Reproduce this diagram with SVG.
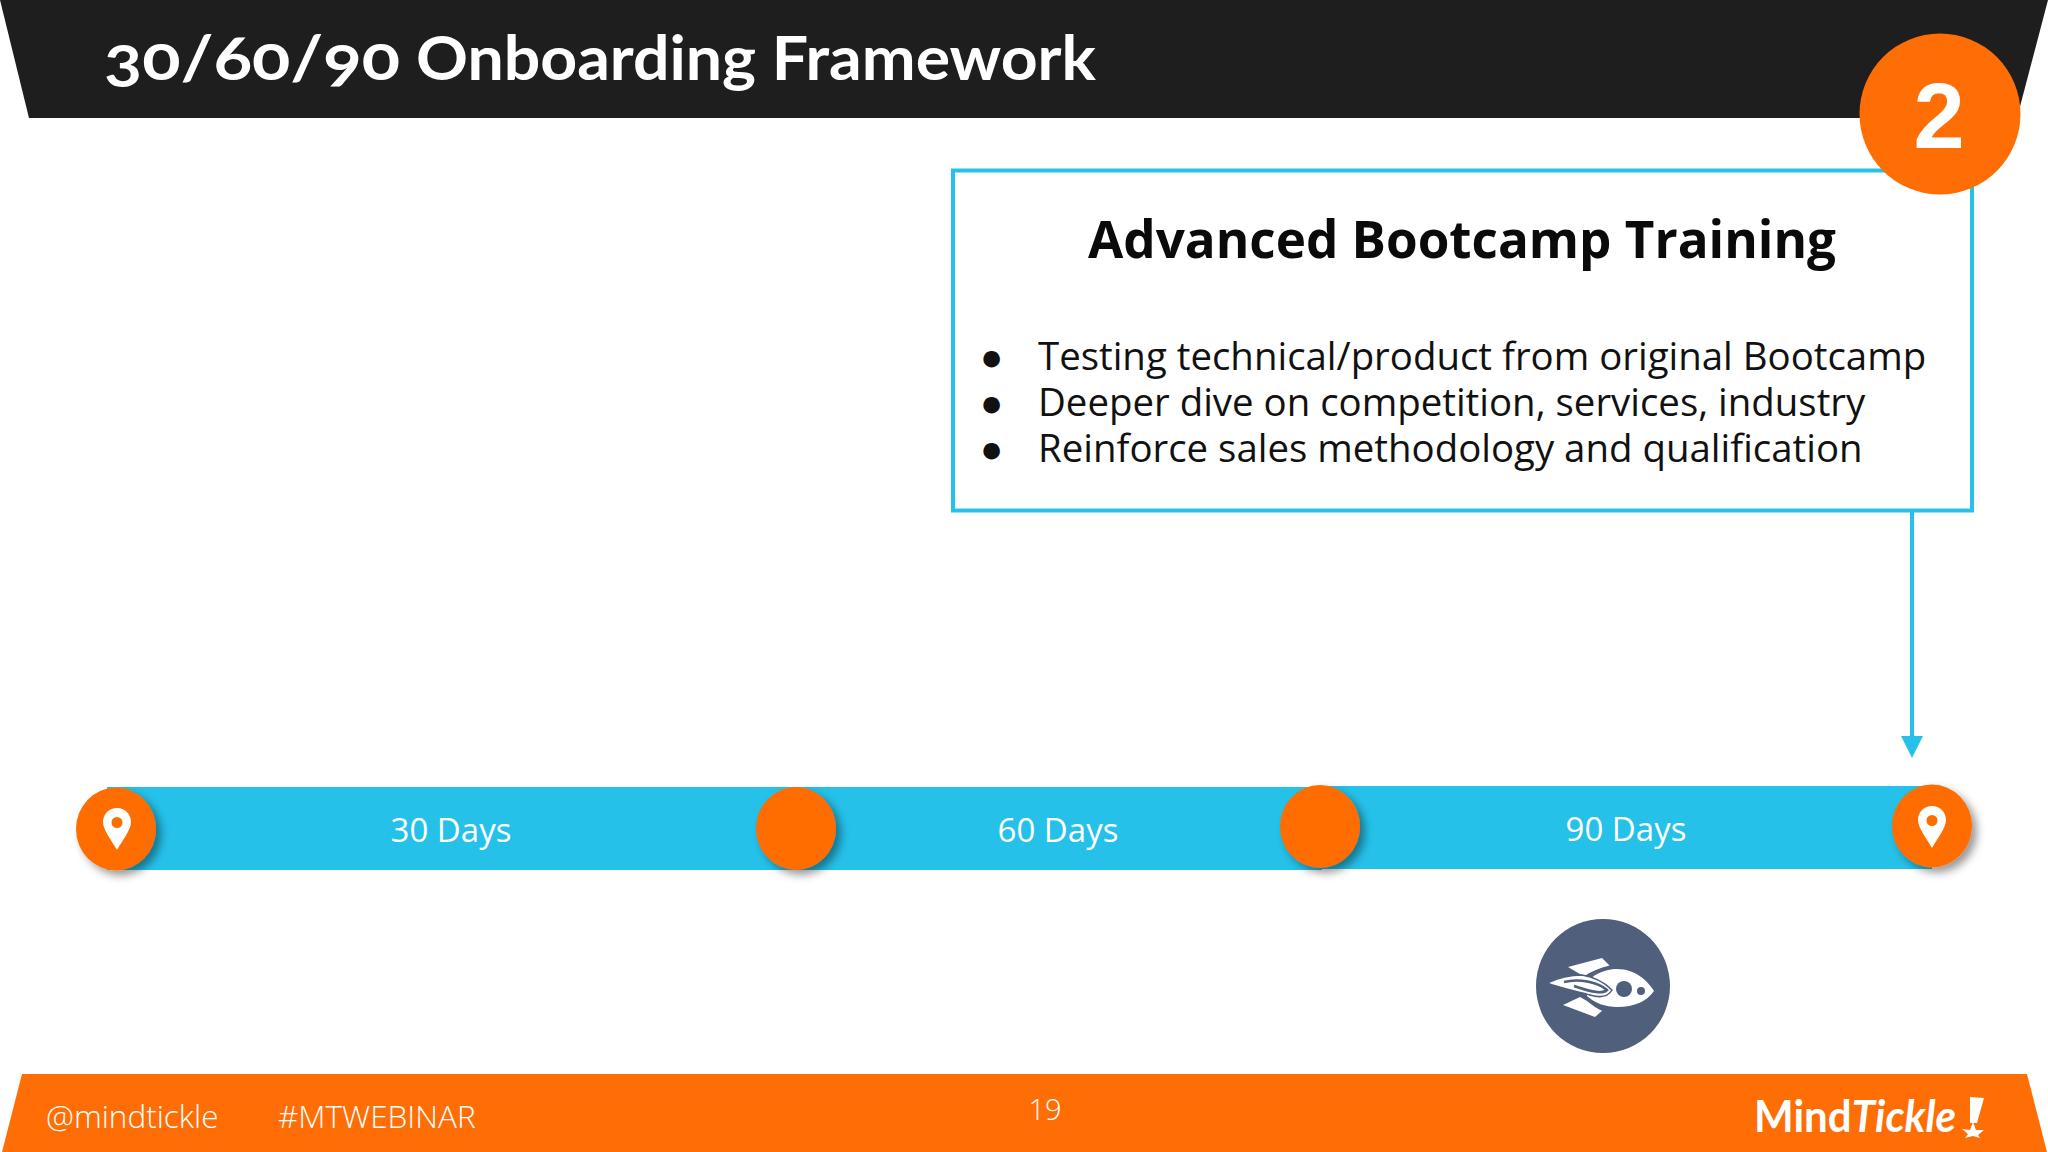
<svg xmlns="http://www.w3.org/2000/svg" width="2048" height="1152" viewBox="0 0 2048 1152">
<style>
.o{fill:#ff6d05}.b{fill:#25c1e9}
.os{font-family:"Open Sans","Liberation Sans",sans-serif}
.day{font-size:33px;fill:#fff;text-anchor:middle;font-weight:400}
.li{font-size:38.4px;fill:#111;font-weight:400}
.ft{font-size:31.500px;fill:#fff;font-weight:300}
</style>
<defs>
<filter id="sh" x="-30%" y="-30%" width="170%" height="170%"><feDropShadow dx="5" dy="5" stdDeviation="4" flood-color="#000" flood-opacity=".4"/></filter>
<path id="pin" d="M0 -22C-8.5 -22 -14 -15.500 -14 -8C-14 0 -5 11 0 20C5 11 14 0 14 -8C14 -15.500 8.500 -22 0 -22ZM0 -13A5.500 5.500 0 1 1 0 -2A5.500 5.500 0 1 1 0 -13Z" fill="#fff" fill-rule="evenodd"/>
</defs>
<rect width="2048" height="1152" fill="#fff"/>
<g id="header">
<polygon points="0,0 2048,0 2017,118 29,118" fill="#1e1e1e"/>
<text x="104" y="80" font-family="Lato,'Open Sans',sans-serif" font-weight="700" font-size="62" fill="#fff" style="font-feature-settings:'onum'"><tspan textLength="296" lengthAdjust="spacingAndGlyphs">30/60/90</tspan><tspan x="416" textLength="680" lengthAdjust="spacingAndGlyphs">Onboarding Framework</tspan></text>
</g>
<g id="footer">
<polygon points="22,1074 2027,1074 2047,1152 2,1152" class="o"/>
<text x="46" y="1128" class="os ft">@mindtickle</text>
<text x="278" y="1128" class="os ft">#MTWEBINAR</text>
<text x="1045" y="1120" class="os" font-size="29" font-weight="300" fill="#fff" text-anchor="middle">19</text>
<g id="logo">
<text x="1754" y="1132" font-family="Lato,sans-serif" font-weight="700" font-size="43" fill="#fff" textLength="202" lengthAdjust="spacingAndGlyphs">Mind<tspan font-style="italic">Tickle</tspan></text>
<polygon points="1970,1097 1984,1098 1977,1123 1970,1123" fill="#fff"/>
<polygon points="1973,1122 1976,1130 1984,1130 1978,1135 1980,1138 1973,1136 1965,1138 1968,1134 1962,1129 1970,1130" fill="#fff"/>
</g>
</g>
<g id="bar">
<rect x="107" y="787" width="1215" height="83" class="b"/>
<rect x="1320" y="786" width="612" height="83" class="b"/>
<text x="451" y="842" class="os day">30 Days</text>
<text x="1058" y="842" class="os day">60 Days</text>
<text x="1626" y="841" class="os day">90 Days</text>
</g>
<g id="connectors">
<line x1="1912" y1="510" x2="1912" y2="738" stroke="#25c1e9" stroke-width="4"/>
<polygon points="1901,736 1923,736 1912,758" class="b"/>
</g>
<g id="node-start"><ellipse cx="116" cy="829" rx="40" ry="41.500" class="o" filter="url(#sh)"/><use href="#pin" x="117" y="830"/></g>
<g id="node-mid1"><ellipse cx="796" cy="828.500" rx="40" ry="41.500" class="o" filter="url(#sh)"/></g>
<g id="node-mid2"><ellipse cx="1320" cy="826.500" rx="40" ry="41.500" class="o" filter="url(#sh)"/></g>
<g id="node-end"><ellipse cx="1932" cy="826" rx="40" ry="41.500" class="o" filter="url(#sh)"/><use href="#pin" x="1932" y="828"/></g>
<g id="card">
<rect x="953" y="170.500" width="1019" height="340" fill="#fff" stroke="#25c1e9" stroke-width="4"/>
<text x="1462" y="258" class="os" font-size="51.200" font-weight="700" fill="#0a0a0a" text-anchor="middle">Advanced Bootcamp Training</text>
<text x="980" y="370" class="os li">●</text>
<text x="980" y="416" class="os li">●</text>
<text x="980" y="462" class="os li">●</text>
<text x="1038" y="370" class="os li">Testing technical/product from original Bootcamp</text>
<text x="1038" y="416" class="os li">Deeper dive on competition, services, industry</text>
<text x="1038" y="462" class="os li">Reinforce sales methodology and qualification</text>
</g>
<g id="badge">
<circle cx="1940" cy="114" r="80.500" class="o"/>
<text x="1939" y="148" font-family="'Liberation Sans',sans-serif" font-weight="700" font-size="92" fill="#fff" text-anchor="middle">2</text>
</g>
<g id="rocket">
<circle cx="1603" cy="986" r="67" fill="#4f5f7c"/>
<polygon points="1568,967 1602,958 1610,966 1585,977" fill="#fff"/>
<polygon points="1563,1005 1580,997 1603,1010 1595,1017" fill="#fff"/>
<path d="M1587 982C1597 971 1610 969 1617 969C1635 969 1647 980 1654 991C1647 1001 1635 1007 1617 1007C1605 1007 1595 1003 1587 996Z" fill="#fff"/>
<path d="M1585 977C1595 970 1605 968 1612 966M1585 997C1592 1004 1600 1009 1606 1011" fill="none" stroke="#4f5f7c" stroke-width="2.500"/>
<path d="M1547 983C1560 977 1572 975 1582 975C1595 977 1605 983 1612 990C1608 997 1600 998 1590 995C1575 991 1560 988 1547 983Z" fill="#fff" stroke="#4f5f7c" stroke-width="1.500"/>
<path d="M1564 982C1578 978 1598 982 1607 990C1603 994 1594 993 1574 986" fill="none" stroke="#4f5f7c" stroke-width="2.500"/>
<circle cx="1624" cy="989" r="8" fill="#4f5f7c"/>
<circle cx="1641" cy="991" r="4" fill="#4f5f7c"/>
</g>
</svg>
